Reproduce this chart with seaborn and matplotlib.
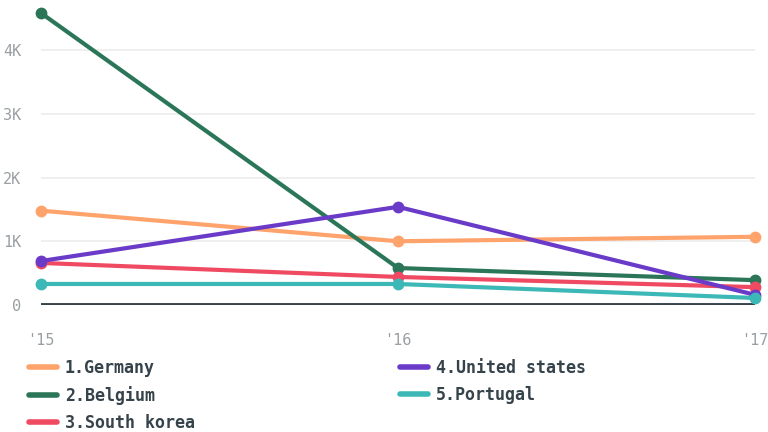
import numpy as np
import matplotlib
matplotlib.use("Agg")
import matplotlib.pyplot as plt
from matplotlib.lines import Line2D
import pandas as pd
import seaborn as sns

# data
years = [2015, 2016, 2017]
year_labels = ["'15", "'16", "'17"]
countries = ["1.Germany", "2.Belgium", "3.South korea", "4.United states", "5.Portugal"]
germany = [1480, 1000, 1070]
belgium = [4580, 580, 390]
south_korea = [660, 440, 280]
united_states = [690, 1540, 160]
portugal = [330, 330, 110]
colors = ["#ffa36c", "#2b7659", "#ef4a62", "#6a3bc8", "#3cb9b6"]

series = [germany, belgium, south_korea, united_states, portugal]
df = pd.DataFrame({
    "year": years * len(countries),
    "country": np.repeat(countries, len(years)),
    "value": np.concatenate(series),
})

sns.set_style("white")
plt.rcParams["font.family"] = ["DejaVu Sans Mono", "DejaVu Sans"]

fig = plt.figure(figsize=(7.68, 4.32), dpi=100)
ax = fig.add_axes([41 / 768, 1 - 305 / 432, (755 - 41) / 768, (305 - 8.6) / 432])

sns.lineplot(data=df, x="year", y="value", hue="country", palette=colors,
             hue_order=countries, linewidth=3, marker="o", markersize=7,
             markeredgewidth=1.5, legend=False, ax=ax)
for ln in ax.lines:
    ln.set_clip_on(False)
    ln.set_solid_capstyle("round")
    ln.set_markeredgecolor(ln.get_color())

ax.set_xlim(2015, 2017)
ax.set_ylim(0, 4650)
ax.set_yticks([0, 1000, 2000, 3000, 4000])
ax.set_yticklabels(["0", "1K", "2K", "3K", "4K"])
ax.set_xticks(years)
ax.set_xticklabels(year_labels)
ax.tick_params(axis="both", length=0, labelsize=11, labelcolor="#9a9fa3")
ax.tick_params(axis="y", pad=14)
ax.tick_params(axis="x", pad=20)
ax.grid(axis="y", color="#ececec", linewidth=1.2)
ax.set_axisbelow(True)
ax.axhline(0, color="#36434b", linewidth=2.8, zorder=1.5)
ax.set_xlabel("")
ax.set_ylabel("")
for s in ax.spines.values():
    s.set_visible(False)

handles = [Line2D([0], [0], color=c, linewidth=4) for c in colors]
fig.legend(handles, countries, loc="upper left", bbox_to_anchor=(14 / 768, 1 - 344 / 432),
           ncol=2, frameon=False, handlelength=1.7, handletextpad=0.45,
           columnspacing=12.3, labelspacing=0.55,
           prop={"family": "DejaVu Sans Mono", "weight": "bold", "size": 12},
           labelcolor="#36434b")

fig.savefig("out.png", dpi=100)
